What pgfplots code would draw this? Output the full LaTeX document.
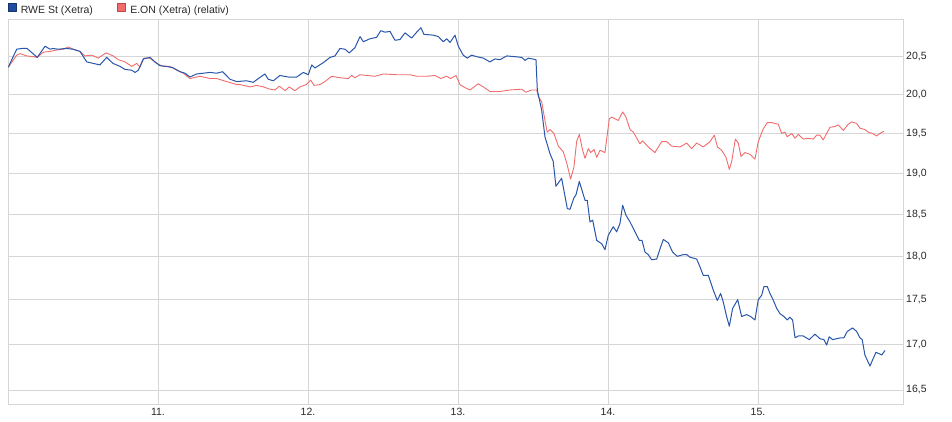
\documentclass[border=0pt]{standalone}
\usepackage{pgfplots}
\pgfplotsset{compat=1.18}
\usepackage{pgfplotstable}
\usepackage{fontspec}
\setmainfont{Liberation Sans}
\definecolor{rweblue}{RGB}{40,86,170}
\definecolor{rwefill}{RGB}{30,76,160}
\definecolor{rwedark}{RGB}{20,50,110}
\definecolor{eonred}{RGB}{240,108,108}
\definecolor{eondark}{RGB}{190,70,70}
\definecolor{gridgray}{RGB}{214,214,214}
\definecolor{txt}{RGB}{40,40,40}

\pgfplotstableread{
x y
10.002 20.36
10.058 20.60
10.093 20.61
10.127 20.61
10.195 20.49
10.247 20.64
10.280 20.60
10.300 20.61
10.333 20.60
10.391 20.61
10.433 20.60
10.480 20.57
10.525 20.43
10.569 20.41
10.613 20.39
10.658 20.49
10.700 20.41
10.747 20.37
10.780 20.33
10.825 20.32
10.847 20.29
10.869 20.32
10.902 20.47
10.947 20.49
10.980 20.43
11.013 20.38
11.058 20.37
11.102 20.35
11.147 20.30
11.180 20.28
11.213 20.23
11.258 20.27
11.302 20.28
11.347 20.29
11.391 20.28
11.431 20.30
11.480 20.20
11.525 20.17
11.591 20.18
11.635 20.16
11.669 20.21
11.713 20.27
11.735 20.20
11.769 20.18
11.813 20.25
11.869 20.23
11.925 20.23
11.969 20.29
12.002 20.26
12.025 20.39
12.047 20.35
12.102 20.42
12.147 20.49
12.180 20.51
12.213 20.61
12.247 20.60
12.275 20.55
12.313 20.62
12.347 20.77
12.369 20.70
12.413 20.74
12.458 20.76
12.485 20.85
12.513 20.83
12.547 20.84
12.580 20.72
12.613 20.73
12.647 20.82
12.691 20.75
12.725 20.83
12.753 20.89
12.773 20.80
12.835 20.79
12.869 20.77
12.902 20.70
12.925 20.74
12.947 20.69
12.980 20.79
13.002 20.64
13.035 20.52
13.062 20.48
13.091 20.52
13.125 20.50
13.169 20.48
13.213 20.43
13.247 20.47
13.280 20.46
13.325 20.51
13.380 20.50
13.425 20.49
13.447 20.45
13.469 20.48
13.520 20.46
13.529 20.06
13.558 19.80
13.580 19.46
13.613 19.25
13.635 19.15
13.653 18.84
13.691 18.94
13.729 18.57
13.747 18.56
13.773 18.70
13.787 18.74
13.809 18.90
13.847 18.67
13.862 18.67
13.880 18.41
13.898 18.43
13.925 18.19
13.958 18.15
13.980 18.08
14.002 18.25
14.035 18.35
14.058 18.29
14.080 18.39
14.098 18.61
14.120 18.49
14.147 18.41
14.180 18.29
14.209 18.19
14.227 18.19
14.247 18.05
14.269 18.02
14.291 17.96
14.325 17.97
14.347 18.09
14.369 18.20
14.402 18.16
14.431 18.05
14.462 18.00
14.502 18.02
14.525 18.02
14.547 17.99
14.591 17.97
14.613 17.88
14.635 17.78
14.669 17.78
14.702 17.61
14.729 17.49
14.751 17.57
14.769 17.47
14.791 17.31
14.809 17.20
14.831 17.40
14.865 17.50
14.891 17.31
14.925 17.33
14.951 17.31
14.980 17.27
15.002 17.50
15.025 17.55
15.040 17.65
15.062 17.65
15.080 17.57
15.098 17.51
15.125 17.40
15.147 17.34
15.173 17.31
15.195 17.27
15.213 17.30
15.231 17.27
15.247 17.07
15.269 17.09
15.302 17.09
15.342 17.05
15.380 17.11
15.413 17.06
15.440 17.05
15.458 16.99
15.475 17.08
15.498 17.05
15.525 17.06
15.551 17.07
15.573 17.07
15.595 17.14
15.631 17.18
15.658 17.14
15.680 17.07
15.695 17.05
15.713 16.88
15.747 16.76
15.765 16.83
15.787 16.91
15.813 16.89
15.825 16.88
15.847 16.93
}\rwe

\pgfplotstableread{
x y
10.002 20.36
10.058 20.52
10.080 20.54
10.125 20.51
10.169 20.50
10.195 20.49
10.235 20.56
10.280 20.57
10.325 20.59
10.369 20.60
10.402 20.63
10.435 20.60
10.480 20.57
10.513 20.51
10.558 20.52
10.602 20.48
10.653 20.55
10.702 20.51
10.735 20.46
10.780 20.43
10.825 20.37
10.858 20.41
10.880 20.36
10.907 20.48
10.947 20.48
10.991 20.41
11.035 20.37
11.080 20.37
11.125 20.32
11.169 20.28
11.213 20.21
11.280 20.24
11.347 20.21
11.391 20.21
11.458 20.17
11.525 20.13
11.547 20.13
11.613 20.10
11.658 20.12
11.702 20.10
11.747 20.07
11.780 20.06
11.809 20.11
11.847 20.05
11.875 20.10
11.913 20.05
11.947 20.10
11.987 20.13
12.018 20.19
12.040 20.12
12.080 20.13
12.113 20.17
12.158 20.24
12.213 20.22
12.269 20.21
12.291 20.25
12.313 20.22
12.347 20.26
12.391 20.25
12.447 20.24
12.502 20.27
12.591 20.26
12.680 20.26
12.725 20.24
12.791 20.24
12.847 20.25
12.885 20.21
12.925 20.24
12.951 20.21
12.987 20.25
13.013 20.13
13.047 20.09
13.080 20.06
13.135 20.14
13.169 20.10
13.213 20.04
13.280 20.04
13.347 20.06
13.425 20.07
13.453 20.03
13.491 20.06
13.525 20.06
13.535 19.98
13.558 19.91
13.580 19.67
13.595 19.52
13.613 19.55
13.640 19.50
13.669 19.34
13.702 19.27
13.725 19.13
13.751 18.93
13.773 19.08
13.791 19.40
13.809 19.49
13.831 19.29
13.847 19.19
13.869 19.31
13.885 19.26
13.907 19.30
13.925 19.20
13.947 19.29
13.980 19.26
14.009 19.69
14.025 19.71
14.069 19.67
14.098 19.78
14.120 19.71
14.147 19.55
14.169 19.52
14.213 19.37
14.231 19.41
14.269 19.33
14.313 19.26
14.358 19.40
14.391 19.40
14.425 19.34
14.480 19.33
14.525 19.38
14.558 19.31
14.591 19.38
14.635 19.33
14.680 19.40
14.709 19.48
14.730 19.33
14.758 19.29
14.787 19.20
14.809 19.05
14.825 19.15
14.849 19.43
14.869 19.38
14.887 19.21
14.913 19.26
14.947 19.24
14.980 19.18
15.002 19.40
15.035 19.56
15.062 19.64
15.091 19.64
15.135 19.62
15.158 19.50
15.180 19.52
15.195 19.46
15.225 19.50
15.247 19.44
15.269 19.49
15.302 19.43
15.335 19.44
15.369 19.43
15.391 19.48
15.413 19.48
15.435 19.42
15.458 19.50
15.480 19.58
15.513 19.59
15.535 19.61
15.569 19.54
15.602 19.62
15.625 19.65
15.658 19.63
15.680 19.57
15.713 19.55
15.735 19.52
15.765 19.50
15.791 19.47
15.813 19.50
15.840 19.53
}\eon

\begin{document}
\begin{tikzpicture}
\useasboundingbox (0,0) rectangle (952pt,422pt);
\begin{axis}[
  at={(8pt,18pt)}, anchor=south west,
  scale only axis, width=895pt, height=385pt,
  xmin=10, xmax=15.967,
  ymode=log, ymin=16.35, ymax=21.01,
  xtick={11,12,13,14,15}, xticklabels={11.,12.,13.,14.,15.},
  ytick={16.5,17,17.5,18,18.5,19,19.5,20,20.5},
  yticklabels={{16,5},{17,0},{17,5},{18,0},{18,5},{19,0},{19,5},{20,0},{20,5}},
  minor ytick={}, minor xtick={},
  yticklabel pos=right,
  major tick length=0pt,
  xmajorgrids, ymajorgrids,
  grid style={draw=gridgray, line width=0.8pt},
  axis line style={draw=gridgray, line width=0.8pt},
  tick label style={font=\fontsize{10.5}{12}\selectfont, text=txt, inner sep=0pt},
  yticklabel style={anchor=west, xshift=3pt},
  xticklabel style={anchor=north, yshift=-4pt},
  legend columns=2,
  reverse legend,
  legend style={at={(0,1)}, anchor=south west, yshift=4pt, draw=none, fill=none,
    inner sep=0pt, outer sep=0pt, font=\fontsize{10.5}{12}\selectfont, text=txt,
    nodes={inner sep=0pt},
    /tikz/every odd column/.append style={column sep=4.7pt},
    /tikz/every even column/.append style={column sep=24.5pt}},
]
\addplot[eonred, line width=0.9pt, line join=round, no markers,
  legend image code/.code={\filldraw[draw=eondark, fill=eonred, line width=0.6pt] (0pt,-0.5pt) rectangle (7.5pt,7pt);}]
  table[x=x, y=y] {\eon};
\addlegendentry{E.ON (Xetra) (relativ)}
\addplot[rweblue, line width=1.0pt, line join=round, no markers,
  legend image code/.code={\filldraw[draw=rwedark, fill=rwefill, line width=0.6pt] (0pt,-0.5pt) rectangle (7.5pt,7pt);}]
  table[x=x, y=y] {\rwe};
\addlegendentry{RWE St (Xetra)}
\end{axis}
\end{tikzpicture}
\end{document}
